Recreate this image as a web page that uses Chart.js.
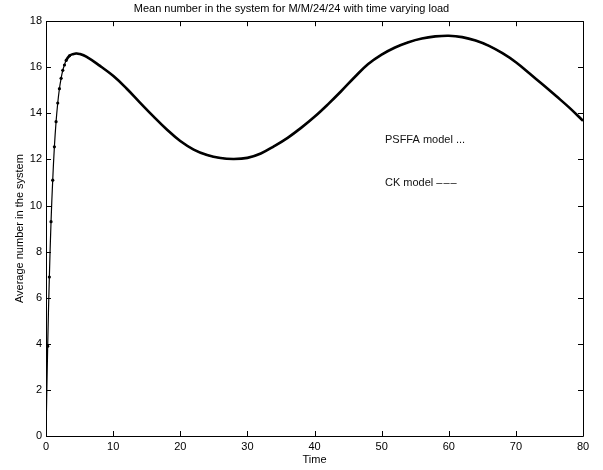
<!DOCTYPE html>
<html>
<head>
<meta charset="utf-8">
<script src="https://cdn.jsdelivr.net/npm/chart.js@4/dist/chart.umd.min.js"></script>
<style>
  html, body { margin: 0; padding: 0; background: #fff; }
  #wrap { width: 603px; height: 470px; }
</style>
</head>
<body>
<div id="wrap"><canvas id="c" width="603" height="470"></canvas></div>
<script>
// ---- data ----
const chartTitle = "Mean number in the system for M/M/24/24 with time varying load";
const xAxisTitle = "Time";
const yAxisTitle = "Average number in the system";
const xTickValues = [0, 10, 20, 30, 40, 50, 60, 70, 80];
const yTickValues = [0, 2, 4, 6, 8, 10, 12, 14, 16, 18];

const times = [0, 0.25, 0.5, 0.75, 1, 1.25, 1.5, 1.75, 2, 2.25, 2.5, 2.75, 3, 3.5, 4, 4.5, 5, 6, 8, 10, 12, 14, 16, 18, 20, 22, 24, 26, 28, 30, 32, 34, 36, 38, 40, 42, 44, 46, 48, 50, 52, 54, 56, 58, 60, 62, 64, 66, 68, 70, 72, 74, 76, 78, 80];
const ckValues = [0, 3.9, 6.9, 9.3, 11.1, 12.55, 13.64, 14.45, 15.07, 15.52, 15.87, 16.1, 16.3, 16.5, 16.57, 16.6, 16.58, 16.46, 16.07, 15.63, 15.08, 14.47, 13.87, 13.3, 12.8, 12.43, 12.19, 12.06, 12.02, 12.07, 12.26, 12.58, 12.94, 13.37, 13.85, 14.39, 14.97, 15.58, 16.14, 16.55, 16.86, 17.09, 17.25, 17.34, 17.37, 17.31, 17.16, 16.93, 16.61, 16.22, 15.74, 15.25, 14.75, 14.24, 13.68];
const psffaValues = [0, 3.9, 6.9, 9.3, 11.1, 12.55, 13.64, 14.45, 15.07, 15.52, 15.87, 16.1, 16.3, 16.5, 16.57, 16.6, 16.58, 16.46, 16.07, 15.63, 15.08, 14.47, 13.87, 13.3, 12.8, 12.43, 12.19, 12.06, 12.02, 12.07, 12.26, 12.58, 12.94, 13.37, 13.85, 14.39, 14.97, 15.58, 16.14, 16.55, 16.86, 17.09, 17.25, 17.34, 17.37, 17.31, 17.16, 16.93, 16.61, 16.22, 15.74, 15.25, 14.75, 14.24, 13.68];
const noteLabels = ["PSFFA model ...", "CK model "];
const noteSuffix = ["", "\u2013\u2013\u2013"];
const noteX = [50.5, 50.5];
const noteY = [12.85, 10.98];

const FONT = "'Liberation Sans', Arial, Helvetica, sans-serif";
const toXY = (xs, ys) => xs.map((t, i) => ({ x: t, y: ys[i] }));

const boxTicks = {
  id: 'boxTicks',
  afterDraw(chart) {
    const { ctx, chartArea: { left, right, top, bottom }, scales: { x, y } } = chart;
    ctx.save();
    ctx.strokeStyle = '#000';
    ctx.lineWidth = 1;
    ctx.beginPath();
    ctx.rect(Math.round(left) + 0.5, Math.round(top) + 0.5, Math.round(right - left), Math.round(bottom - top));
    ctx.stroke();
    const L = 5;
    ctx.beginPath();
    xTickValues.forEach(v => {
      const px = Math.round(x.getPixelForValue(v)) + 0.5;
      ctx.moveTo(px, bottom); ctx.lineTo(px, bottom - L);
      ctx.moveTo(px, top); ctx.lineTo(px, top + L);
    });
    yTickValues.forEach(v => {
      const py = Math.round(y.getPixelForValue(v)) + 0.5;
      ctx.moveTo(left, py); ctx.lineTo(left + L, py);
      ctx.moveTo(right, py); ctx.lineTo(right - L, py);
    });
    ctx.stroke();
    // annotation texts
    ctx.fillStyle = '#111';
    ctx.font = '11px ' + FONT;
    ctx.textAlign = 'left';
    ctx.textBaseline = 'middle';
    noteLabels.forEach((s, i) => {
      const px = x.getPixelForValue(noteX[i]);
      const py = y.getPixelForValue(noteY[i]);
      ctx.fillText(s, px, py);
      if (noteSuffix[i]) {
        const w = ctx.measureText(s).width;
        ctx.letterSpacing = '1px';
        ctx.fillText(noteSuffix[i], px + w, py);
        ctx.letterSpacing = '0px';
      }
    });
    ctx.restore();
  }
};

new Chart(document.getElementById('c'), {
  type: 'scatter',
  data: {
    datasets: [
      {
        label: 'CK model',
        data: toXY(times, ckValues),
        showLine: true,
        borderColor: '#000',
        borderWidth: 1.2,
        pointRadius: 0,
        tension: 0.4,
        fill: false
      },
      {
        label: 'PSFFA model',
        data: toXY(times, psffaValues),
        showLine: true,
        borderColor: '#000',
        backgroundColor: '#000',
        borderWidth: 2.6,
        tension: 0.4,
        segment: {
          borderWidth: c => (c.p0.parsed.x < 3 ? 0.01 : 2.6),
          borderColor: c => (c.p0.parsed.x < 3 ? 'rgba(0,0,0,0)' : '#000')
        },
        pointRadius: c => (c.raw && c.raw.x > 0 && c.raw.x <= 3.5 ? 1.6 : 0),
        pointBorderWidth: 0,
        fill: false
      }
    ]
  },
  plugins: [boxTicks],
  options: {
    responsive: false,
    animation: false,
    events: [],
    layout: { padding: { left: 0, right: 20, top: 0, bottom: 0 } },
    plugins: {
      legend: { display: false },
      tooltip: { enabled: false },
      title: {
        display: true,
        text: chartTitle,
        color: '#000',
        font: { family: FONT, size: 11, weight: 'normal' },
        padding: { top: 2, bottom: 6 }
      }
    },
    scales: {
      x: {
        type: 'linear',
        min: 0, max: 80,
        afterBuildTicks: s => { s.ticks = xTickValues.map(v => ({ value: v })); },
        afterFit: s => { s.height = 34; },
        grid: { display: false, drawTicks: false },
        border: { display: false },
        ticks: { color: '#000', font: { family: FONT, size: 11 }, padding: 4, maxRotation: 0 },
        title: { display: true, text: xAxisTitle, color: '#000', font: { family: FONT, size: 11 }, padding: { top: 0, bottom: 3 } }
      },
      y: {
        type: 'linear',
        min: 0, max: 18,
        afterBuildTicks: s => { s.ticks = yTickValues.map(v => ({ value: v })); },
        afterFit: s => { s.width = 46; },
        grid: { display: false, drawTicks: false },
        border: { display: false },
        ticks: { color: '#000', font: { family: FONT, size: 11 }, padding: 4 },
        title: { display: true, text: yAxisTitle, color: '#000', font: { family: FONT, size: 11 }, padding: { top: 13, bottom: 0 } }
      }
    }
  }
});
</script>
</body>
</html>
